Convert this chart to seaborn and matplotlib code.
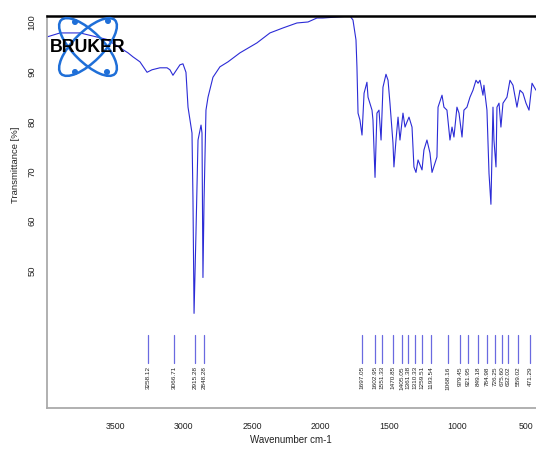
import numpy as np
import pandas as pd
import seaborn as sns
import matplotlib
matplotlib.use("Agg")
import matplotlib.pyplot as plt
from matplotlib.patches import Ellipse, Circle

# IR spectrum: wavenumber (cm-1) and transmittance (%)
wavenumber = [3996, 3901, 3755, 3560, 3405, 3369, 3318, 3266, 3230, 3172, 3120, 3099,
              3077, 3026, 3004, 2982, 2967, 2938, 2931, 2923, 2909, 2894, 2872, 2865,
              2858, 2850, 2836, 2821, 2785, 2734, 2675, 2588, 2464, 2369, 2274, 2172,
              2091, 2026, 1982, 1880, 1785, 1763, 1741, 1734, 1726, 1712, 1697, 1682,
              1661, 1653, 1624, 1617, 1602, 1588, 1573, 1558, 1544, 1522, 1507, 1493,
              1471, 1464, 1449, 1434, 1420, 1398, 1383, 1369, 1354, 1332, 1318, 1303,
              1288, 1259, 1245, 1223, 1201, 1186, 1150, 1142, 1113, 1099, 1077, 1055,
              1040, 1026, 1004, 989, 967, 953, 931, 909, 887, 865, 850, 836, 814, 807,
              785, 770, 756, 741, 734, 719, 712, 697, 683, 668, 639, 617, 595, 566,
              544, 522, 500, 478, 456, 427]
transmittance = [97.0, 97.8, 97.8, 96.5, 93.8, 93.0, 92.0, 89.9, 90.4, 90.8, 90.8, 90.4,
                 89.3, 91.4, 91.6, 89.9, 82.9, 77.7, 64.8, 41.5, 57.6, 76.3, 79.3, 77.7,
                 48.7, 64.2, 82.3, 84.9, 88.9, 91.0, 92.0, 93.8, 95.8, 97.8, 98.8, 99.8,
                 100.0, 100.8, 100.8, 101.0, 101.2, 100.4, 96.4, 91.0, 81.7, 80.3, 77.3, 85.7,
                 87.9, 84.9, 82.3, 80.3, 68.8, 81.7, 82.3, 76.3, 86.9, 89.5, 88.3, 83.7,
                 75.7, 70.9, 76.3, 80.9, 76.3, 81.7, 78.9, 79.9, 80.9, 78.9, 70.9, 69.8,
                 72.3, 70.3, 74.3, 76.3, 73.7, 69.8, 72.9, 82.9, 85.3, 82.9, 82.3, 76.3,
                 78.9, 76.9, 82.9, 81.7, 76.9, 82.3, 82.9, 84.9, 86.3, 88.3, 87.7, 88.3, 85.3, 87.3,
                 82.3, 69.6, 63.4, 82.9, 76.3, 70.9, 82.9, 83.7, 78.9, 83.7, 84.9, 88.3, 87.3, 82.9,
                 86.3, 85.7, 83.7, 82.3, 87.7, 86.3]

# Peak picking results
peaks = [3258.12, 3066.71, 2915.28, 2848.28,
         1697.05, 1602.95, 1551.33, 1470.85, 1405.05, 1361.38, 1310.33, 1259.51, 1193.54,
         1068.16, 979.45, 921.95, 849.18, 784.98, 726.25, 675.60, 632.02, 559.02, 471.29]

x_ticks = [3500, 3000, 2500, 2000, 1500, 1000, 500]
y_ticks = [50, 60, 70, 80, 90, 100]

spec = pd.DataFrame({"wn": wavenumber, "T": transmittance})

sns.set_style("white")
plt.rcParams["font.family"] = ["Liberation Sans", "DejaVu Sans"]

W, H = 536, 450
fig = plt.figure(figsize=(W / 100, H / 100), dpi=100)
ax = fig.add_axes([46.5 / W, 1 - 408 / H, 1 - 46.5 / W, (408 - 16) / H])

sns.lineplot(data=spec, x="wn", y="T", ax=ax, sort=False, estimator=None,
             color="#2b2bd6", linewidth=0.8, clip_on=True)

# peak markers and labels
for p in peaks:
    ax.plot([p, p], [37.1, 31.5], color="#6a6ae0", linewidth=0.9)
    ax.text(p, 30.9, f"{p:.2f}", rotation=90, ha="center", va="top",
            fontsize=4.6, color="#222222")

ax.set_xlim(4000, 427)
ax.set_ylim(22.5, 101.2)
ax.set_xticks(x_ticks)
ax.set_yticks(y_ticks)
ax.set_xticklabels([str(t) for t in x_ticks], fontsize=6.3)
ax.set_yticklabels([str(t) for t in y_ticks], fontsize=6.8, rotation=90, va="center")
ax.tick_params(axis="both", direction="out", length=5, width=0.8, color="#777777",
               pad=2, colors="#222222")
ax.tick_params(axis="x", pad=5)
ax.set_xlabel("Wavenumber cm-1", fontsize=7, labelpad=3, color="#222222")
ax.set_ylabel("")

for side in ("left", "bottom"):
    ax.spines[side].set_color("#aaaaaa")
    ax.spines[side].set_linewidth(1.3)
ax.spines["right"].set_visible(False)
ax.spines["top"].set_color("black")
ax.spines["top"].set_linewidth(1.8)

fig.text(16 / W, 1 - 165 / H, "Transmittance [%]", rotation=90, ha="center",
         va="center", fontsize=6.8, color="#222222")

# Bruker logo
lg = fig.add_axes([0, 0, 1, 1], zorder=5)
lg.set_xlim(0, W)
lg.set_ylim(H, 0)
lg.axis("off")
for ang in (45, -45):
    lg.add_patch(Ellipse((88, 47), 76, 30, angle=ang, fill=False,
                         edgecolor="#1f6fd8", linewidth=1.8))
for cx, cy in [(75, 22), (108, 21), (75, 72), (107, 72)]:
    lg.add_patch(Circle((cx, cy), 2.3, color="#1f6fd8"))
lg.text(88, 47, "BRUKER", ha="center", va="center", fontsize=12.8,
        fontweight="bold", color="black", family="Liberation Sans")

fig.savefig("out.png", dpi=100)
